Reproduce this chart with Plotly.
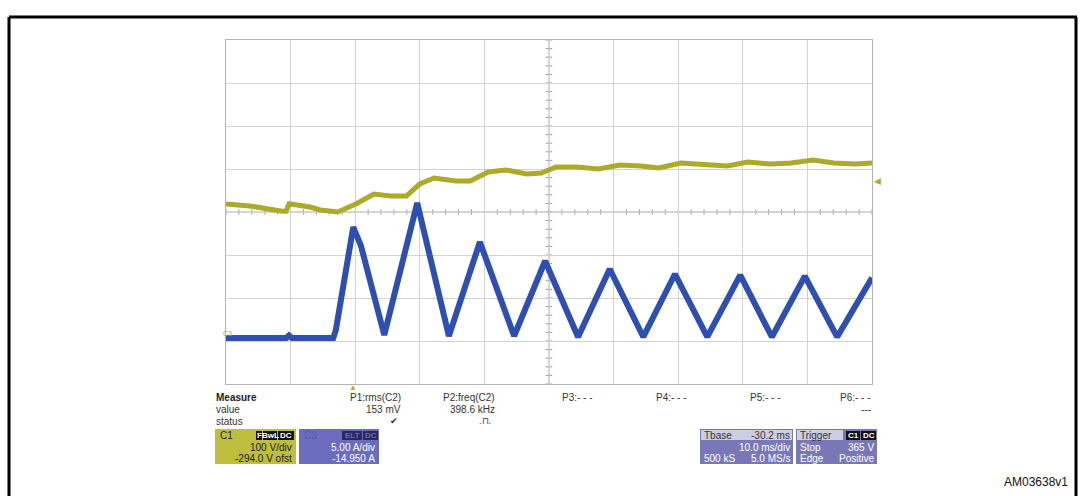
import plotly.graph_objects as go

# ---- data (time in ms, 10 ms/div) ----
c1_time = [0, 3.7, 8.7, 9.3, 9.75, 13.0, 14.6, 17.3, 20.1, 22.9, 25.5, 27.9, 30.0, 32.2, 35.6, 37.8,
           40.6, 43.3, 46.6, 48.8, 51.1, 54.3, 57.6, 61.0, 64.2, 67.0, 70.4, 74.3, 77.6, 80.8, 84.2,
           87.5, 90.9, 94.1, 97.4, 100]
c1_volts = [312.6, 308, 296, 296, 313, 305.6, 298.7, 294, 312.6, 335.9, 331.2, 331.2, 359.1, 373, 366, 366,
            387, 391.7, 382.4, 384.7, 398.7, 398.7, 394, 403.3, 401, 396.3, 408, 405.6, 401, 410.3, 405.6,
            408, 415, 408, 405.6, 408]

c3_time = [0, 9.3, 9.75, 10.2, 16.6, 17.0, 19.7, 20.4, 20.9, 24.5, 29.6, 34.5, 39.3, 44.6, 49.4, 54.5,
           59.4, 64.6, 69.5, 74.5, 79.6, 84.5, 89.6, 94.6, 100]
c3_amps = [0.3, 0.3, 0.6, 0.3, 0.3, 1.2, 13.2, 11.7, 11.0, 0.65, 16.0, 0.53, 11.46, 0.53, 9.25, 0.42,
           8.32, 0.42, 7.74, 0.42, 7.6, 0.42, 7.5, 0.42, 7.3]

c1_vdiv, c1_offset = 100, 294.0
c3_adiv, c3_offset = 5.0, 14.95
trigger_level = 365
marker_time = 19.7

W, H = 1080, 496
def X(px): return px / W
def Y(py): return 1 - py / H

YEL = "rgb(172,170,40)"
BLU = "rgb(45,78,178)"

fig = go.Figure()
fig.add_trace(go.Scatter(x=c1_time, y=c1_volts, mode="lines", line=dict(color=YEL, width=5),
                         yaxis="y", hoverinfo="skip", showlegend=False))
fig.add_trace(go.Scatter(x=c3_time, y=c3_amps, mode="lines", line=dict(color=BLU, width=6),
                         yaxis="y2", hoverinfo="skip", showlegend=False))

grid = "#d2d2d2"
fig.update_layout(
    width=W, height=H, margin=dict(l=0, r=0, t=0, b=0),
    paper_bgcolor="white", plot_bgcolor="white",
    font=dict(family="Liberation Sans, Arial", size=10, color="#333"),
    xaxis=dict(domain=[X(226), X(872)], range=[0, 100], dtick=10, tick0=0, showgrid=True, gridcolor=grid,
               gridwidth=1, showticklabels=False, ticks="", zeroline=False,
               showline=True, mirror=True, linecolor="#b4b4b4", linewidth=1),
    yaxis=dict(domain=[Y(384), Y(40)], range=[c1_offset - 4 * c1_vdiv, c1_offset + 4 * c1_vdiv],
               dtick=c1_vdiv, tick0=c1_offset, showgrid=True, gridcolor=grid, showticklabels=False,
               ticks="", zeroline=False, showline=True, mirror=True, linecolor="#b4b4b4", linewidth=1),
    yaxis2=dict(overlaying="y", range=[c3_offset - 4 * c3_adiv, c3_offset + 4 * c3_adiv],
                showgrid=False, showticklabels=False, ticks="", zeroline=False, visible=False),
)

shapes = []
for i in range(51):
    t = i * 2
    shapes.append(dict(type="line", xref="x", yref="y", x0=t, x1=t, y0=c1_offset - 6, y1=c1_offset + 6,
                       line=dict(color="#9a9a9a", width=1), layer="below"))
for i in range(41):
    v = c1_offset - 4 * c1_vdiv + i * c1_vdiv / 5
    shapes.append(dict(type="line", xref="x", yref="y", x0=49.5, x1=50.5, y0=v, y1=v,
                       line=dict(color="#9a9a9a", width=1), layer="below"))
shapes.append(dict(type="line", xref="x", yref="y", x0=0, x1=100, y0=c1_offset, y1=c1_offset,
                   line=dict(color="#b0b0b0", width=1), layer="below"))
shapes.append(dict(type="line", xref="x", yref="y", x0=50, x1=50, y0=c1_offset - 400, y1=c1_offset + 400,
                   line=dict(color="#b0b0b0", width=1), layer="below"))

# outer frame (drawn as separate lines)
frame = dict(color="black", width=3)
shapes.append(dict(type="line", xref="paper", yref="paper", x0=X(9), x1=X(1077), y0=Y(17), y1=Y(17), line=frame))
shapes.append(dict(type="line", xref="paper", yref="paper", x0=X(9), x1=X(9), y0=Y(17), y1=0, line=frame))
shapes.append(dict(type="line", xref="paper", yref="paper", x0=X(1076), x1=X(1076), y0=Y(17), y1=0, line=frame))

def box(x0, y0, x1, y1, fill):
    shapes.append(dict(type="rect", xref="paper", yref="paper", x0=X(x0), x1=X(x1), y0=Y(y1), y1=Y(y0),
                       fillcolor=fill, line=dict(color=fill, width=0)))

ann = []
def txt(x, y, s, anchor="left", color="#333", size=10, bold=False, bg=None):
    if bold:
        s = "<b>" + s + "</b>"
    ann.append(dict(xref="paper", yref="paper", x=X(x), y=Y(y), text=s, showarrow=False,
                    xanchor=anchor, yanchor="middle", font=dict(size=size, color=color,
                    family="Liberation Sans, Arial"), bgcolor=bg))

box(215, 429, 296, 464, "rgb(190,190,62)")
box(299, 429, 379, 464, "rgb(108,108,190)")
box(700, 429, 793, 464, "rgb(120,120,185)")
box(701, 430, 792, 440, "rgb(205,205,228)")
box(796, 429, 877, 464, "rgb(120,120,185)")
box(797, 430, 843, 440, "rgb(205,205,228)")

def badge(x0, x1, label, dark="#111", fg="white"):
    box(x0, 431, x1, 440, dark)
    txt((x0 + x1) / 2, 435.5, label, anchor="center", color=fg, size=8, bold=True)

badge(256, 262, "F")
badge(263, 277, "BwL")
badge(278, 294, "DC")
badge(342, 362, "ELT", dark="#2a2a5a", fg="#6c6cbe")
badge(363, 378, "DC", dark="#2a2a5a", fg="#6c6cbe")
badge(846, 860, "C1")
badge(861, 876, "DC")

txt(218, 435, "C1", color="#222")
txt(302, 435, "C3", color="#5a5aa8")
txt(294, 447, "100 V/div", anchor="right", color="#222")
txt(294, 458, "-294.0 V ofst", anchor="right", color="#222")
txt(377, 447, "5.00 A/div", anchor="right", color="white")
txt(377, 458, "-14.950 A", anchor="right", color="white")
txt(702, 435, "Tbase", color="#333")
txt(792, 435, "-30.2 ms", anchor="right", color="#333")
txt(792, 447, "10.0 ms/div", anchor="right", color="white")
txt(702, 458, "500 kS", color="white")
txt(792, 458, "5.0 MS/s", anchor="right", color="white")
txt(798, 435, "Trigger", color="#333")
txt(798, 447, "Stop", color="white")
txt(876, 447, "365 V", anchor="right", color="white")
txt(798, 458, "Edge", color="white")
txt(876, 458, "Positive", anchor="right", color="white")

txt(214, 397, "Measure", bold=True, color="#222")
txt(214, 409, "value")
txt(214, 421, "status")
txt(403, 397, "P1:rms(C2)", anchor="right")
txt(403, 409, "153 mV", anchor="right")
txt(400, 421, "✔", anchor="right", size=9)
txt(497, 397, "P2:freq(C2)", anchor="right")
txt(497, 409, "398.6 kHz", anchor="right")
txt(493, 421, ".⊓.", anchor="right", size=9)
txt(560, 397, "P3:- - -")
txt(654, 397, "P4:- - -")
txt(748, 397, "P5:- - -")
txt(873, 397, "P6:- - -", anchor="right")
txt(873, 409, "---", anchor="right")

ann.append(dict(xref="x", yref="y", x=100, y=trigger_level, text="◀", showarrow=False, xshift=5,
                font=dict(size=9, color=YEL)))
ann.append(dict(xref="x", yref="paper", x=marker_time, y=Y(387), text="▲", showarrow=False,
                yanchor="middle", font=dict(size=8, color=YEL)))
ann.append(dict(xref="paper", yref="y2", x=X(221), y=0.8, text="C3", showarrow=False,
                font=dict(size=7, color="rgb(170,160,90)")))

txt(1070, 482, "AM03638v1", anchor="right", color="#111", size=12)

fig.update_layout(shapes=shapes, annotations=ann)
fig.write_html("out.html", config={"displayModeBar": False},
               post_script="document.body.style.margin='0';document.body.style.overflow='hidden';")
